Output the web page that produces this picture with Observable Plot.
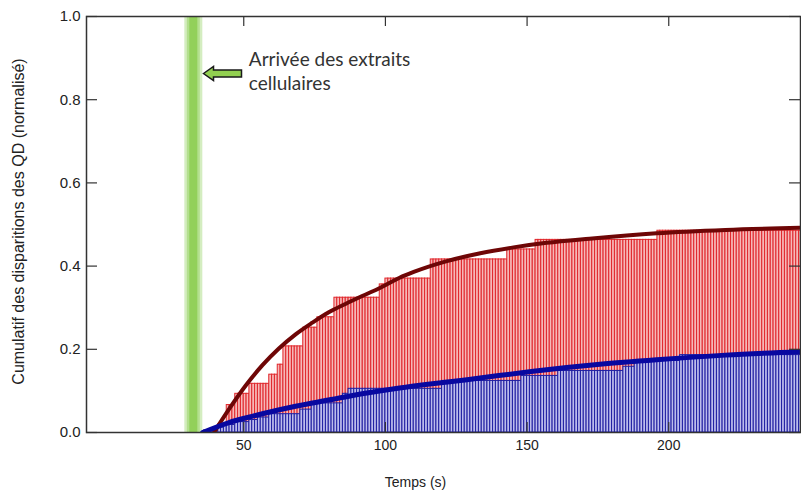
<!DOCTYPE html>
<html>
<head>
<meta charset="utf-8">
<script src="https://cdn.jsdelivr.net/npm/d3@7"></script>
<script src="https://cdn.jsdelivr.net/npm/@observablehq/plot@0.6"></script>
<style>
  html, body { margin: 0; padding: 0; background: white; }
  #chart svg { display: block; }
</style>
</head>
<body>
<div id="chart"></div>
<script>
// ---- Data ----
const xTicks = [50, 100, 150, 200];
const yTicks = [0, 0.2, 0.4, 0.6, 0.8, 1.0];

const xLabel = "Temps (s)";
const yLabel = "Cumulatif des disparitions des QD (normalisé)";
const noteText = "Arrivée des extraits\ncellulaires";

// Red cumulative histogram: step start times (s) and step heights
const redStepTimes  = [41, 44, 47, 52, 59, 62, 64, 71, 76, 82, 98, 100, 116, 143, 153, 196];
const redStepValues = [0.02, 0.066, 0.093, 0.117, 0.139, 0.163, 0.207, 0.252, 0.277, 0.324, 0.356, 0.37, 0.416, 0.44, 0.463, 0.485];

// Blue cumulative histogram
const blueStepTimes  = [-4, 36, 40, 43, 47, 52, 55, 59, 70, 74, 85, 87, 120, 148, 161, 184, 188, 204];
const blueStepValues = [0, 0.005, 0.012, 0.018, 0.025, 0.03, 0.036, 0.044, 0.055, 0.07, 0.093, 0.105, 0.124, 0.136, 0.148, 0.158, 0.172, 0.186];

const histEnd = 247;

// Fitted curves
const redFitTimes  = [39.5, 44.8, 50.7, 56.6, 62.4, 68.3, 74.2, 80, 85.9, 91.8, 98.2, 105, 110, 121.7, 133.5, 145.2, 156.9, 172, 195.7, 220, 246.5];
const redFitValues = [0.0, 0.056, 0.113, 0.162, 0.202, 0.236, 0.264, 0.289, 0.309, 0.328, 0.348, 0.372, 0.386, 0.412, 0.431, 0.445, 0.456, 0.466, 0.479, 0.487, 0.492];

const blueFitTimes  = [35.5, 44.8, 52.5, 56.6, 68.3, 80, 91.8, 105, 115, 128.8, 140, 152.2, 164, 175.7, 195.7, 220, 246.5];
const blueFitValues = [0.0, 0.024, 0.038, 0.045, 0.063, 0.078, 0.093, 0.107, 0.116, 0.127, 0.137, 0.147, 0.156, 0.164, 0.175, 0.186, 0.194];

const arrivalTime = [32.2];

// ---- Build tables ----
function expandSteps(times, values, end) {
  const out = [];
  for (let i = 0; i < times.length; i++) {
    const t1 = i + 1 < times.length ? times[i + 1] : end;
    for (let t = times[i]; t < t1; t++) out.push({t, v: values[i]});
  }
  return out;
}
const redBars = expandSteps(redStepTimes, redStepValues, histEnd);
const blueBars = expandSteps(blueStepTimes, blueStepValues, histEnd);
const redFit = redFitTimes.map((t, i) => ({t, v: redFitValues[i]}));
const blueFit = blueFitTimes.map((t, i) => ({t, v: blueFitValues[i]}));

// block arrow pointing left (custom symbol)
const leftArrow = {
  draw(ctx) {
    ctx.moveTo(-19, 0);
    ctx.lineTo(-9, -7);
    ctx.lineTo(-9, -3.5);
    ctx.lineTo(19, -3.5);
    ctx.lineTo(19, 3.5);
    ctx.lineTo(-9, 3.5);
    ctx.lineTo(-9, 7);
    ctx.closePath();
  }
};

const chart = Plot.plot({
  width: 801,
  height: 493,
  marginLeft: 86,
  marginRight: 1,
  marginTop: 16,
  marginBottom: 61,
  x: {domain: [-5.5, 246.5]},
  y: {domain: [0, 1]},
  style: {fontFamily: "'Liberation Sans', Arial, sans-serif", background: "white", color: "#222"},
  marks: [
    // green arrival band (soft edges)
    Plot.ruleX(arrivalTime, {stroke: "#d4edc0", strokeWidth: 18}),
    Plot.ruleX(arrivalTime, {stroke: "#b3df8e", strokeWidth: 13}),
    Plot.ruleX(arrivalTime, {stroke: "#92d05a", strokeWidth: 8}),
    // histograms
    Plot.rectY(redBars, {x1: "t", x2: d => d.t + 1, y: "v", fill: "#f6b8b8", stroke: "#e0262b", strokeWidth: 1, clip: true}),
    Plot.rectY(blueBars, {x1: "t", x2: d => d.t + 1, y: "v", fill: "#bcbcec", stroke: "#1e1ea2", strokeWidth: 1, clip: true}),
    // fits
    Plot.line(redFit, {x: "t", y: "v", stroke: "#6e0606", strokeWidth: 4, curve: "monotone-x", clip: true}),
    Plot.line(blueFit, {x: "t", y: "v", stroke: "#0808a0", strokeWidth: 5, curve: "monotone-x", clip: true}),
    // frame and inward ticks
    Plot.frame({stroke: "#333", strokeWidth: 1.5}),
    Plot.ruleX(xTicks, {stroke: "#333", strokeWidth: 1.2, insetTop: 406}),
    Plot.ruleX(xTicks, {stroke: "#333", strokeWidth: 1.2, insetBottom: 406}),
    Plot.ruleY(yTicks, {stroke: "#333", strokeWidth: 1.2, insetRight: 703}),
    Plot.ruleY(yTicks, {stroke: "#333", strokeWidth: 1.2, insetLeft: 703}),
    Plot.axisX({ticks: xTicks, tickSize: 0, tickPadding: 8, fontSize: 14, label: null}),
    Plot.axisY({ticks: yTicks, tickFormat: d3.format(".1f"), tickSize: 0, tickPadding: 6, fontSize: 15, label: null}),
    Plot.text([xLabel], {frameAnchor: "bottom", dx: -28, dy: 54, fontSize: 14, fill: "#222"}),
    Plot.text([yLabel], {frameAnchor: "left", textAnchor: "middle", rotate: -90, dx: -68, dy: -3, fontSize: 16, fill: "#222"}),
    // annotation
    Plot.dot([0], {x: () => 42.5, y: () => 0.863, symbol: leftArrow, fill: "#92d050", stroke: "#1a1a1a", strokeWidth: 1.5}),
    Plot.text([noteText], {x: () => 51.8, y: () => 0.921, textAnchor: "start", lineAnchor: "top", lineHeight: 1.25, fontSize: 19, fontFamily: "Lato, 'Open Sans', sans-serif", fill: "#333"})
  ]
});
document.getElementById("chart").appendChild(chart);
</script>
</body>
</html>
